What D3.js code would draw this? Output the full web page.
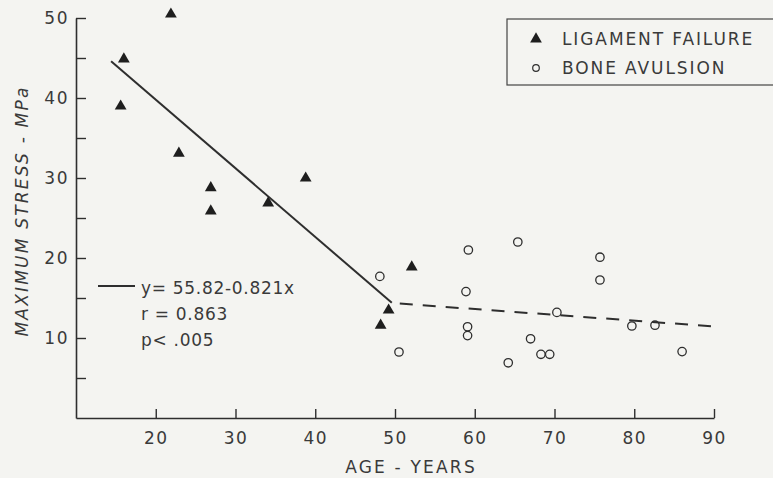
<!DOCTYPE html>
<html>
<head>
<meta charset="utf-8">
<script src="https://cdn.jsdelivr.net/npm/d3@7"></script>
<style>
  body { margin: 0; background: #f4f4f1; }
  svg { display: block; }
  text { font-family: "DejaVu Sans", sans-serif; fill: #3a3a3a; }
</style>
</head>
<body>
<svg id="chart"></svg>
<script>
// Ligament failure (filled triangles)
const ligAge    = [21.9, 16.0, 15.6, 22.9, 26.9, 26.9, 34.1, 38.8, 52.1, 49.2, 48.2];
const ligStress = [50.6, 45.0, 39.1, 33.2, 28.9, 26.0, 27.0, 30.1, 19.0, 13.6, 11.7];

// Bone avulsion (open circles)
const boneAge    = [48.1, 59.2, 58.9, 59.1, 59.1, 50.5, 64.2, 65.4, 75.7, 75.7, 70.3, 67.0, 68.3, 69.4, 79.7, 82.6, 86.0];
const boneStress = [17.7, 21.0, 15.8, 11.4, 10.3, 8.25, 6.9, 22.0, 20.1, 17.25, 13.2, 9.9, 7.96, 7.96, 11.5, 11.6, 8.3];

// regression lines (end points)
const fitSolid  = [[14.4, 44.6], [49.6, 14.4]];
const fitDashed = [[50.6, 14.3], [90.6, 11.4]];

const xTicks = [20, 30, 40, 50, 60, 70, 80, 90];
const yTicks = [5, 10, 15, 20, 25, 30, 35, 40, 45, 50];
const yLabels = [10, 20, 30, 40, 50];
const statLines = ['y= 55.82-0.821x', 'r = 0.863', 'p< .005'];
const legendNames = ['LIGAMENT FAILURE', 'BONE AVULSION'];

const W = 773, H = 478;
const svg = d3.select('#chart').attr('width', W).attr('height', H);

const x = d3.scaleLinear().domain([10, 90]).range([76, 714]);
const y = d3.scaleLinear().domain([0, 50]).range([418, 18]);

const ink = '#2e2e2e';

// axes - ticks point inward
svg.append('g')
    .attr('transform', `translate(0,${y(0)})`)
    .call(d3.axisBottom(x).tickValues(xTicks).tickSizeInner(-9).tickSizeOuter(0).tickPadding(14))
    .call(g => g.select('.domain').attr('stroke', ink).attr('stroke-width', 1.6))
    .call(g => g.selectAll('.tick line').attr('stroke', ink).attr('stroke-width', 1.4))
    .call(g => g.selectAll('.tick text').attr('font-size', 17).attr('fill', '#444')
        .attr('letter-spacing', 1.5)
        .attr('font-family', '"DejaVu Sans", sans-serif'));

svg.append('g')
    .attr('transform', `translate(${x(10)},0)`)
    .call(d3.axisLeft(y).tickValues(yTicks).tickSizeInner(-10).tickSizeOuter(0).tickPadding(7)
        .tickFormat(d => yLabels.includes(d) ? d : ''))
    .call(g => g.select('.domain').attr('stroke', ink).attr('stroke-width', 1.6))
    .call(g => g.selectAll('.tick line').attr('stroke', ink).attr('stroke-width', 1.4))
    .call(g => g.selectAll('.tick text').attr('font-size', 17).attr('fill', '#444')
        .attr('letter-spacing', 1.5)
        .attr('font-family', '"DejaVu Sans", sans-serif'));

// axis titles
svg.append('text')
    .attr('x', 411).attr('y', 473)
    .attr('text-anchor', 'middle')
    .attr('font-size', 17)
    .attr('letter-spacing', 2.2)
    .text('AGE - YEARS');

svg.append('text')
    .attr('transform', 'translate(28,211) rotate(-90)')
    .attr('text-anchor', 'middle')
    .attr('font-size', 17)
    .attr('font-style', 'italic')
    .attr('letter-spacing', 2.2)
    .text('MAXIMUM  STRESS - MPa');

// fit lines
const line = d3.line().x(d => x(d[0])).y(d => y(d[1]));
svg.append('path').attr('d', line(fitSolid))
    .attr('fill', 'none').attr('stroke', ink).attr('stroke-width', 2);
svg.append('path').attr('d', line(fitDashed))
    .attr('fill', 'none').attr('stroke', ink).attr('stroke-width', 2)
    .attr('stroke-dasharray', '13,10');

// points
const tri = d3.symbol().type(d3.symbolTriangle).size(60);
svg.append('g').selectAll('path')
    .data(ligAge.map((a, i) => [a, ligStress[i]]))
    .join('path')
    .attr('d', tri)
    .attr('transform', d => `translate(${x(d[0])},${y(d[1]) + 1})`)
    .attr('fill', '#1e1e1e');

svg.append('g').selectAll('circle')
    .data(boneAge.map((a, i) => [a, boneStress[i]]))
    .join('circle')
    .attr('cx', d => x(d[0])).attr('cy', d => y(d[1]))
    .attr('r', 4.2)
    .attr('fill', 'none').attr('stroke', ink).attr('stroke-width', 1.3);

// equation annotation
svg.append('line')
    .attr('x1', 98).attr('x2', 135).attr('y1', 286).attr('y2', 286)
    .attr('stroke', ink).attr('stroke-width', 2);
svg.append('g').selectAll('text')
    .data(statLines)
    .join('text')
    .attr('x', 141).attr('y', (d, i) => 294 + i * 26)
    .attr('font-size', 17)
    .attr('letter-spacing', 0.7)
    .text(d => d);

// legend
const lg = svg.append('g');
lg.append('rect')
    .attr('x', 507).attr('y', 19).attr('width', 270).attr('height', 66)
    .attr('fill', 'none').attr('stroke', '#444').attr('stroke-width', 1.2);
lg.append('path').attr('d', tri)
    .attr('transform', 'translate(536,39)').attr('fill', '#1e1e1e');
lg.append('circle').attr('cx', 536).attr('cy', 68).attr('r', 3.3)
    .attr('fill', 'none').attr('stroke', ink).attr('stroke-width', 1.2);
lg.selectAll('text.lg')
    .data(legendNames)
    .join('text')
    .attr('class', 'lg')
    .attr('x', 562).attr('y', (d, i) => 45 + i * 29)
    .attr('font-size', 17)
    .attr('letter-spacing', 1.9)
    .text(d => d);
</script>
</body>
</html>
